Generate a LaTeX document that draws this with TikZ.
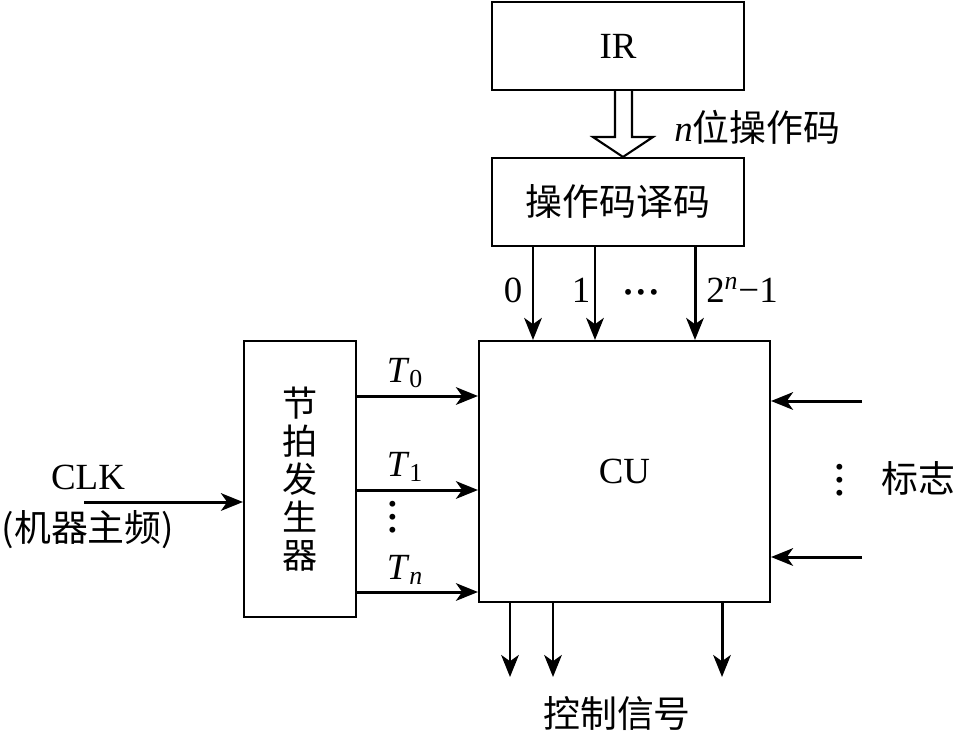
\documentclass[tikz,border=0pt]{standalone}
\usepackage{fontspec}
\setmainfont{Liberation Serif}
\newfontfamily\cjk{Noto Sans CJK SC}
\usetikzlibrary{arrows.meta}

\newcommand{\hdots}{{\fontsize{14}{14}\selectfont •\kern2.4pt•\kern2.4pt•}}
\newcommand{\vdotsbig}{\rotatebox{90}{\hdots}}

\begin{document}
\begin{tikzpicture}[
  x=0.02cm, y=-0.02cm,
  block/.style={
    draw,
    line width=1.2pt,
    inner sep=0pt,
    font=\fontsize{21}{24}\selectfont
  },
  signal/.style={
    line width=1.7pt,
    -{Stealth[length=12.5pt, width=10pt, inset=3.5pt]}
  },
  label/.style={
    inner sep=0pt,
    font=\fontsize{21}{24}\selectfont
  },
  dots/.style={
    inner sep=0pt
  }
]
\useasboundingbox (0,0) rectangle (957,731);

% blocks
\node[block, minimum width=5.04cm, minimum height=1.76cm] (IR) at (618,46) {IR};
\node[block, minimum width=5.04cm, minimum height=1.76cm] (dec) at (618,202) {\cjk 操作码译码};
\node[block, minimum width=5.82cm, minimum height=5.22cm] (CU) at (624.5,471.5) {CU};
\node[block, minimum width=2.24cm, minimum height=5.52cm, align=center,
  font=\fontsize{20}{21.6}\cjk] (beat) at (300,479) {节\\拍\\发\\生\\器};

% hollow arrow IR -> decoder
\draw[line width=1.2pt, fill=white]
  (615,0 |- IR.south) -- (615,137) -- (593,137) -- (623,0 |- dec.north)
  -- (653,137) -- (632,137) -- (632,0 |- IR.south);
\node[label, anchor=west] (opc) at (674,127) {\textit{n}{\cjk 位操作码}};

% decoder outputs
\foreach \x in {533,595,695} {
  \draw[signal] (\x,0 |- dec.south) -- (\x,0 |- CU.north);
}
\node[label] (d0) at (513,290) {0};
\node[label] (d1) at (581,290) {1};
\node[dots] (ddots) at (641,295) {\hdots};
\node[label] (dn) at (742,290) {2\textsuperscript{\textit{n}}−1};

% clock
\coordinate (clk) at (84,502);
\draw[signal] (clk) -- (clk -| beat.west);
\node[label] (clktext) at (88,477) {CLK};
\node[label] (clkcn) at (88,530) {\cjk (机器主频)};

% beats
\foreach \y in {396,490,592} {
  \draw[signal] (beat.east |- 0,\y) -- (CU.west |- 0,\y);
}
\node[label] (T0) at (405,373) {\textit{T}\textsubscript{0}};
\node[label] (T1) at (405,467) {\textit{T}\textsubscript{1}};
\node[dots] (Tdots) at (395,517) {\vdotsbig};
\node[label] (Tn) at (405,570) {\textit{T}\textsubscript{\textit{n}}};

% flags
\foreach \y in {401,557} {
  \coordinate (f\y) at (862,\y);
  \draw[signal] (f\y) -- (f\y -| CU.east);
}
\node[dots] (fdots) at (842,480) {\vdotsbig};
\node[label] (flag) at (918,478) {\cjk 标志};

% control outputs
\foreach \x in {510,553,722} {
  \coordinate (c\x) at (\x,677);
  \draw[signal] (\x,0 |- CU.south) -- (c\x);
}
\node[label] (ctrl) at (617,714) {\cjk 控制信号};
\end{tikzpicture}
\end{document}
